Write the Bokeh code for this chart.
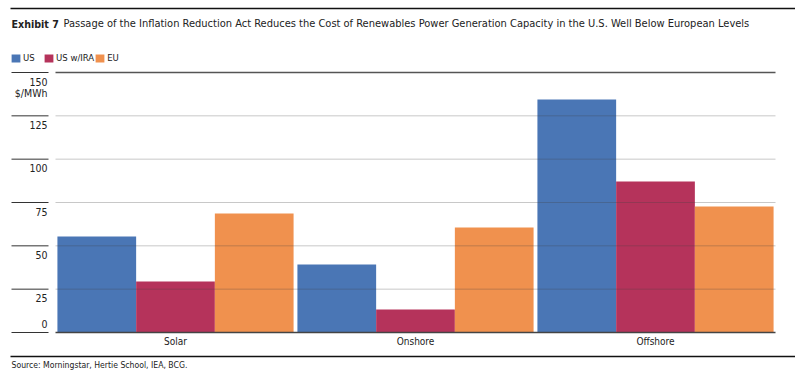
from bokeh.plotting import figure
from bokeh.models import Range1d, ColumnDataSource, Legend, LegendItem
from bokeh.core.properties import value
from bokeh.embed import file_html
from bokeh.resources import INLINE

# ---- data ----
categories = ["Solar", "Onshore", "Offshore"]
series_names = ["US", "US w/IRA", "EU"]
us = [55.4, 39.2, 134.4]
us_ira = [29.4, 13.3, 87.1]
eu = [68.7, 60.6, 72.7]
y_ticks = [0, 25, 50, 75, 100, 125, 150]
unit_label = "$/MWh"
title_bold = "Exhibit 7"
title_text = ("Passage of the Inflation Reduction Act Reduces the Cost of Renewables "
              "Power Generation Capacity in the U.S. Well Below European Levels")
source_text = "Source: Morningstar, Hertie School, IEA, BCG."

colors = ["#4A76B5", "#B5335B", "#F0914E"]
FONT = "DejaVu Sans Condensed"
TXT = "#222222"

# ---- layout (canvas pixels) ----
W, H = 795, 382
L, R, T, B = 55, 775, 72, 332          # plotting area of the bars
YMAX = y_ticks[-1]
NC = len(categories)


def xd(px):
    return (px - L) / (R - L) * NC


def yd(py):
    return (B - py) / (B - T) * YMAX


def ypx(v):
    return B - v / YMAX * (B - T)


p = figure(width=W, height=H, x_range=Range1d(xd(0), xd(W)), y_range=Range1d(yd(H), yd(0)),
           output_backend="svg", toolbar_location=None,
           min_border=0, min_border_left=0, min_border_right=0, min_border_top=0, min_border_bottom=0)
p.axis.visible = False
p.grid.visible = False
p.outline_line_color = None
p.background_fill_color = "white"
p.border_fill_color = "white"

# ---- bars ----
bw = 0.328
src = ColumnDataSource(dict(cat=categories, us=us, us_ira=us_ira, eu=eu,
                            xc=[i + 0.5 for i in range(NC)]))
renderers = []
for j, (col, name) in enumerate(zip(["us", "us_ira", "eu"], series_names)):
    xs = [i + 0.5 + (j - 1) * bw for i in range(NC)]
    r = p.vbar(x=xs, top=src.data[col], width=bw, bottom=0,
               fill_color=colors[j], line_color=None)
    renderers.append((name, r))

# ---- gridlines (over bars, translucent) ----
inner = y_ticks[1:-1]
p.segment(x0=[0] * len(inner), x1=[NC] * len(inner), y0=inner, y1=inner,
          line_color="#404040", line_alpha=0.29, line_width=1)
p.segment(x0=[0], x1=[NC], y0=[YMAX], y1=[YMAX], line_color="#555555", line_width=1.3)
p.segment(x0=[0], x1=[NC], y0=[0], y1=[0], line_color="#444444", line_width=1.3)

# short tick lines at left
p.segment(x0=[xd(11)] * len(y_ticks), x1=[xd(48)] * len(y_ticks), y0=y_ticks, y1=y_ticks,
          line_color="#333333", line_width=1)

# y tick labels: below each line, except 0 which sits above
lab_y = [yd(ypx(v) - 9) if v == 0 else yd(ypx(v) + 9) for v in y_ticks]
p.text(x=[xd(47)] * len(y_ticks), y=lab_y, text=[str(v) for v in y_ticks],
       text_align="right", text_baseline="middle", text_font=value(FONT),
       text_font_size="10.5px", text_color=TXT)
p.text(x=[xd(47)], y=[yd(ypx(YMAX) + 20)], text=[unit_label],
       text_align="right", text_baseline="middle", text_font=value(FONT),
       text_font_size="10.5px", text_color=TXT)

# category labels
p.text(x=src.data["xc"], y=[yd(341)] * NC, text=categories, text_align="center",
       text_baseline="middle", text_font=value(FONT), text_font_size="10px", text_color=TXT)

# title
p.text(x=[xd(11)], y=[yd(23)], text=[title_bold], text_align="left", text_baseline="middle",
       text_font=value(FONT), text_font_size="10.6px", text_font_style="bold", text_color=TXT)
p.text(x=[xd(63)], y=[yd(23)], text=[title_text], text_align="left", text_baseline="middle",
       text_font=value(FONT), text_font_size="11px", text_color=TXT)

# source
p.text(x=[xd(11)], y=[yd(364)], text=[source_text], text_align="left", text_baseline="middle",
       text_font=value(FONT), text_font_size="8.6px", text_color=TXT)

# horizontal rules above the title and below the chart
p.segment(x0=[xd(10)] * 2, x1=[xd(W)] * 2, y0=[yd(8), yd(356)], y1=[yd(8), yd(356)],
          line_color="#111111", line_width=1.3)

# legend
legend = Legend(items=[LegendItem(label=n, renderers=[r]) for n, r in renderers],
                orientation="horizontal", location=(10, H - 63), padding=0, margin=0,
                spacing=0, label_standoff=2, glyph_width=11, glyph_height=10,
                label_height=10, label_text_font=FONT, label_text_font_size="9.5px",
                label_text_color=TXT, border_line_color=None, background_fill_alpha=0)
p.add_layout(legend, "center")

open("out.html", "w").write(file_html(p, INLINE))
